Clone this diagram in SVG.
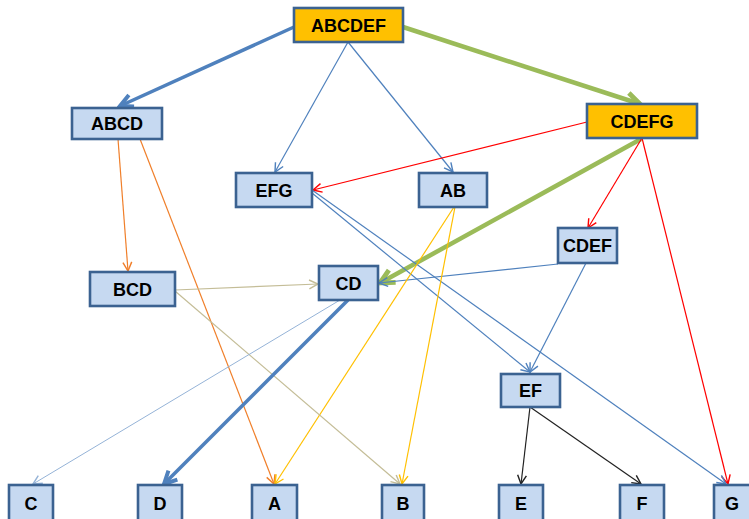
<svg xmlns="http://www.w3.org/2000/svg" width="749" height="519" viewBox="0 0 749 519">
<style>
.n rect{fill:#C6D9F1;stroke:#3B6291;stroke-width:2.6}
.o rect{fill:#FFC000}
.n text{font-family:"Liberation Sans",Arial,sans-serif;font-weight:bold;font-size:18px;fill:#000;text-anchor:middle}
.e{fill:none}
</style>
<defs>
<marker id="mb" viewBox="0 0 10 10" refX="9" refY="5" markerWidth="11" markerHeight="11" markerUnits="userSpaceOnUse" orient="auto"><path d="M1,1 L9,5 L1,9" fill="none" stroke="#4F81BD" stroke-width="1.3"/></marker>
<marker id="ml" viewBox="0 0 10 10" refX="9" refY="5" markerWidth="11" markerHeight="11" markerUnits="userSpaceOnUse" orient="auto"><path d="M1,1 L9,5 L1,9" fill="none" stroke="#95B3D7" stroke-width="1.3"/></marker>
<marker id="mr" viewBox="0 0 10 10" refX="9" refY="5" markerWidth="11" markerHeight="11" markerUnits="userSpaceOnUse" orient="auto"><path d="M1,1 L9,5 L1,9" fill="none" stroke="#FF0000" stroke-width="1.3"/></marker>
<marker id="mo" viewBox="0 0 10 10" refX="9" refY="5" markerWidth="11" markerHeight="11" markerUnits="userSpaceOnUse" orient="auto"><path d="M1,1 L9,5 L1,9" fill="none" stroke="#F07F2A" stroke-width="1.3"/></marker>
<marker id="my" viewBox="0 0 10 10" refX="9" refY="5" markerWidth="11" markerHeight="11" markerUnits="userSpaceOnUse" orient="auto"><path d="M1,1 L9,5 L1,9" fill="none" stroke="#FFC000" stroke-width="1.3"/></marker>
<marker id="mt" viewBox="0 0 10 10" refX="9" refY="5" markerWidth="11" markerHeight="11" markerUnits="userSpaceOnUse" orient="auto"><path d="M1,1 L9,5 L1,9" fill="none" stroke="#C4BD97" stroke-width="1.3"/></marker>
<marker id="mk" viewBox="0 0 10 10" refX="9" refY="5" markerWidth="11" markerHeight="11" markerUnits="userSpaceOnUse" orient="auto"><path d="M1,1 L9,5 L1,9" fill="none" stroke="#222" stroke-width="1.3"/></marker>
<marker id="mB" viewBox="0 0 10 10" refX="8.5" refY="5" markerWidth="18" markerHeight="18" markerUnits="userSpaceOnUse" orient="auto"><path d="M1.5,1.5 L8.5,5 L1.5,8.5" fill="none" stroke="#4F81BD" stroke-width="2.2"/></marker>
<marker id="mG" viewBox="0 0 10 10" refX="8.5" refY="5" markerWidth="20" markerHeight="20" markerUnits="userSpaceOnUse" orient="auto"><path d="M1.5,1.5 L8.5,5 L1.5,8.5" fill="none" stroke="#9BBB59" stroke-width="2.4"/></marker>
</defs>
<g id="connectors">
<line class="e" x1="294" y1="27" x2="120" y2="106" stroke="#4F81BD" stroke-width="3.5" marker-end="url(#mB)"/>
<line class="e" x1="403" y1="27" x2="640" y2="104" stroke="#9BBB59" stroke-width="4.5" marker-end="url(#mG)"/>
<line class="e" x1="348" y1="42" x2="275" y2="172" stroke="#4F81BD" stroke-width="1.2" marker-end="url(#mb)"/>
<line class="e" x1="348" y1="42" x2="453" y2="172" stroke="#4F81BD" stroke-width="1.2" marker-end="url(#mb)"/>
<line class="e" x1="587" y1="122" x2="313" y2="190" stroke="#FF0000" stroke-width="1.2" marker-end="url(#mr)"/>
<line class="e" x1="641" y1="139" x2="380" y2="283" stroke="#9BBB59" stroke-width="4.5" marker-end="url(#mG)"/>
<line class="e" x1="642" y1="138" x2="588" y2="228" stroke="#FF0000" stroke-width="1.2" marker-end="url(#mr)"/>
<line class="e" x1="642" y1="138" x2="728" y2="484" stroke="#FF0000" stroke-width="1.2" marker-end="url(#mr)"/>
<line class="e" x1="118" y1="139" x2="128" y2="271" stroke="#F07F2A" stroke-width="1.2" marker-end="url(#mo)"/>
<line class="e" x1="140" y1="139" x2="274" y2="484" stroke="#F07F2A" stroke-width="1.2" marker-end="url(#mo)"/>
<line class="e" x1="312" y1="193" x2="530" y2="372" stroke="#4F81BD" stroke-width="1.2" marker-end="url(#mb)"/>
<line class="e" x1="312" y1="190" x2="726" y2="484" stroke="#4F81BD" stroke-width="1.2" marker-end="url(#mb)"/>
<line class="e" x1="586" y1="263" x2="530" y2="372" stroke="#4F81BD" stroke-width="1.2" marker-end="url(#mb)"/>
<line class="e" x1="558" y1="264" x2="379" y2="283" stroke="#4F81BD" stroke-width="1.2" marker-end="url(#mb)"/>
<line class="e" x1="454" y1="207" x2="275" y2="484" stroke="#FFC000" stroke-width="1.2" marker-end="url(#my)"/>
<line class="e" x1="455" y1="207" x2="402" y2="484" stroke="#FFC000" stroke-width="1.2" marker-end="url(#my)"/>
<line class="e" x1="175" y1="290" x2="318" y2="284" stroke="#C4BD97" stroke-width="1.2" marker-end="url(#mt)"/>
<line class="e" x1="175" y1="291" x2="400" y2="484" stroke="#C4BD97" stroke-width="1.2" marker-end="url(#mt)"/>
<line class="e" x1="340" y1="300" x2="33" y2="484" stroke="#95B3D7" stroke-width="1" marker-end="url(#ml)"/>
<line class="e" x1="348" y1="300" x2="164" y2="484" stroke="#4F81BD" stroke-width="3.5" marker-end="url(#mB)"/>
<line class="e" x1="530" y1="407" x2="521" y2="484" stroke="#222" stroke-width="1.2" marker-end="url(#mk)"/>
<line class="e" x1="530" y1="407" x2="641" y2="484" stroke="#222" stroke-width="1.2" marker-end="url(#mk)"/>
</g>
<g id="ABCDEF" class="n o"><rect x="294" y="8" width="109" height="34"/><text x="348.5" y="31.5">ABCDEF</text></g>
<g id="ABCD" class="n"><rect x="72" y="108" width="90" height="31"/><text x="117" y="130">ABCD</text></g>
<g id="CDEFG" class="n o"><rect x="587" y="104" width="110" height="34"/><text x="642" y="127.5">CDEFG</text></g>
<g id="EFG" class="n"><rect x="236" y="173" width="76" height="34"/><text x="274" y="196.5">EFG</text></g>
<g id="AB" class="n"><rect x="419" y="173" width="68" height="34"/><text x="453" y="196.5">AB</text></g>
<g id="BCD" class="n"><rect x="90" y="272" width="85" height="34"/><text x="132.5" y="295.5">BCD</text></g>
<g id="CD" class="n"><rect x="319" y="266" width="59" height="34"/><text x="348.5" y="289.5">CD</text></g>
<g id="CDEF" class="n"><rect x="558" y="228" width="59" height="35"/><text x="587.5" y="252">CDEF</text></g>
<g id="EF" class="n"><rect x="501" y="374" width="59" height="33"/><text x="530.5" y="397">EF</text></g>
<g id="C" class="n"><rect x="9" y="485" width="44" height="40"/><text x="31" y="510">C</text></g>
<g id="D" class="n"><rect x="138" y="485" width="44" height="40"/><text x="160" y="510">D</text></g>
<g id="A" class="n"><rect x="252" y="485" width="45" height="40"/><text x="274.5" y="510">A</text></g>
<g id="B" class="n"><rect x="382" y="485" width="42" height="40"/><text x="403" y="510">B</text></g>
<g id="E" class="n"><rect x="499" y="485" width="44" height="40"/><text x="521" y="510">E</text></g>
<g id="F" class="n"><rect x="620" y="485" width="44" height="40"/><text x="642" y="510">F</text></g>
<g id="G" class="n"><rect x="714" y="485" width="38" height="40"/><text x="732" y="510">G</text></g>
</svg>
